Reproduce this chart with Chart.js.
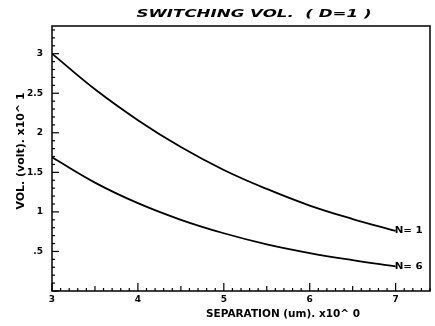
<!DOCTYPE html>
<html>
<head>
<meta charset="utf-8">
<script src="https://cdn.jsdelivr.net/npm/chart.js@4.4.1/dist/chart.umd.min.js"></script>
<style>
  body { margin: 0; background: #fff; }
  canvas { display: block; }
</style>
</head>
<body>
<canvas id="chart" width="435" height="326"></canvas>
<script>
// datos (separacion en um, voltaje x10 V)
const separation = [3, 3.5, 4, 4.5, 5, 5.5, 6, 6.5, 7];
const volN1 = [3.00, 2.55, 2.16, 1.82, 1.53, 1.29, 1.08, 0.91, 0.76];
const volN6 = [1.69, 1.37, 1.11, 0.90, 0.73, 0.59, 0.48, 0.39, 0.31];
const seriesNames = ['N= 1', 'N= 6'];

const xTicks = [3, 4, 5, 6, 7];
const xTickLabels = ['3', '4', '5', '6', '7'];
const yTicks = [0.5, 1, 1.5, 2, 2.5, 3];
const yTickLabels = ['.5', '1', '1.5', '2', '2.5', '3'];

const titleText = 'SWITCHING VOL.  ( D=1 )';
const xTitle = 'SEPARATION (um). x10^ 0';
const yTitle = 'VOL. (volt). x10^ 1';

const tickFont = { family: 'DejaVu Sans', size: 9, weight: 'bold' };

// dibuja un texto centrado y estirado al ancho indicado
function fitText(ctx, text, cx, cy, w, font, rot) {
    ctx.save();
    ctx.translate(cx, cy);
    if (rot) ctx.rotate(rot);
    ctx.font = font;
    const m = ctx.measureText(text).width;
    ctx.scale(w / m, 1);
    ctx.textAlign = 'center';
    ctx.textBaseline = 'middle';
    ctx.fillStyle = '#000';
    ctx.fillText(text, 0, 0);
    ctx.restore();
}

const decorPlugin = {
    id: 'decor',
    afterDraw(chart) {
        const ctx = chart.ctx;
        const a = chart.chartArea;
        const xs = chart.scales.x;
        const ys = chart.scales.y;

        ctx.save();
        ctx.strokeStyle = '#000';
        ctx.lineWidth = 1.5;
        ctx.strokeRect(a.left, a.top, a.right - a.left, a.bottom - a.top);

        // marcas hacia adentro del eje y
        ctx.lineWidth = 1.2;
        for (let i = 0; i <= 33; i++) {
            const v = i / 10;
            const py = ys.getPixelForValue(v);
            const len = (i % 5 === 0) ? 7 : 3;
            ctx.beginPath();
            ctx.moveTo(a.left, py);
            ctx.lineTo(a.left + len, py);
            ctx.stroke();
        }
        // marcas hacia adentro del eje x
        for (let i = 30; i <= 74; i++) {
            const v = i / 10;
            const px = xs.getPixelForValue(v);
            let len = 3;
            if (i % 10 === 0) len = 8;
            else if (i % 5 === 0) len = 5;
            ctx.beginPath();
            ctx.moveTo(px, a.bottom);
            ctx.lineTo(px, a.bottom - len);
            ctx.stroke();
        }
        ctx.restore();

        fitText(ctx, titleText, 254, 14, 235, 'italic bold 11px "DejaVu Sans"');
        fitText(ctx, xTitle, 283, 314, 154, 'bold 10px "DejaVu Sans"');
        fitText(ctx, yTitle, 21, 151, 117, 'bold 10px "DejaVu Sans"', -Math.PI / 2);

        // etiquetas al final de cada curva
        chart.data.datasets.forEach((ds, i) => {
            const last = ds.data[ds.data.length - 1];
            const px = xs.getPixelForValue(last.x);
            const py = ys.getPixelForValue(last.y);
            fitText(ctx, seriesNames[i], px + 13, py, 28, 'bold 9px "DejaVu Sans"');
        });
    }
};

const ctx = document.getElementById('chart').getContext('2d');
new Chart(ctx, {
    type: 'line',
    data: {
        datasets: [
            {
                label: seriesNames[0],
                data: separation.map((x, i) => ({ x: x, y: volN1[i] })),
                borderColor: '#000',
                borderWidth: 1.8,
                pointRadius: 0,
                tension: 0.4,
                fill: false
            },
            {
                label: seriesNames[1],
                data: separation.map((x, i) => ({ x: x, y: volN6[i] })),
                borderColor: '#000',
                borderWidth: 1.8,
                pointRadius: 0,
                tension: 0.4,
                fill: false
            }
        ]
    },
    options: {
        responsive: false,
        animation: false,
        layout: { padding: { left: 0, top: 26, right: 5, bottom: 0 } },
        plugins: {
            legend: { display: false },
            tooltip: { enabled: false },
            title: { display: false }
        },
        scales: {
            x: {
                type: 'linear',
                min: 3,
                max: 7.4,
                afterBuildTicks: (s) => { s.ticks = xTicks.map(v => ({ value: v })); },
                afterFit: (s) => { s.height = 35; },
                grid: { display: false, drawTicks: false },
                border: { display: false },
                ticks: {
                    autoSkip: false,
                    maxRotation: 0,
                    padding: 3,
                    color: '#000',
                    font: tickFont,
                    callback: (v, i) => xTickLabels[i]
                }
            },
            y: {
                type: 'linear',
                min: 0,
                max: 3.35,
                afterBuildTicks: (s) => { s.ticks = yTicks.map(v => ({ value: v })); },
                afterFit: (s) => { s.width = 52; },
                grid: { display: false, drawTicks: false },
                border: { display: false },
                ticks: {
                    autoSkip: false,
                    padding: 9,
                    color: '#000',
                    font: tickFont,
                    callback: (v, i) => yTickLabels[i]
                }
            }
        }
    },
    plugins: [decorPlugin]
});
</script>
</body>
</html>
